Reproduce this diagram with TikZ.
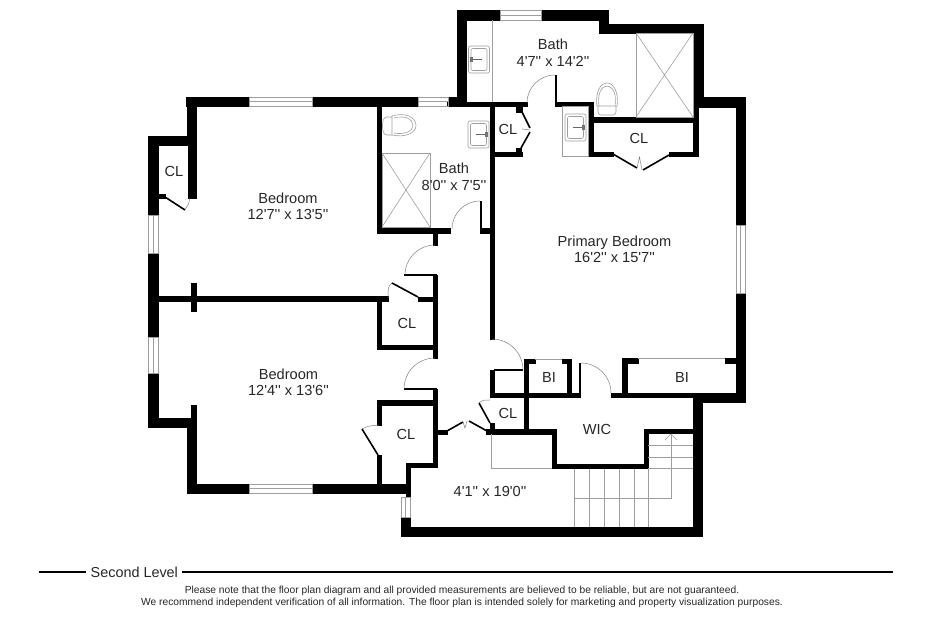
\documentclass[tikz,border=0pt]{standalone}
\usepackage{fontspec}
\usetikzlibrary{calc}
\newfontfamily\planfont{Liberation Sans}
\colorlet{fixture}{black!38}
\tikzset{
	room/.style={font=\planfont\fontsize{14.6}{16.5}\selectfont, align=center, text=black!85, inner sep=0pt},
	note/.style={font=\planfont\fontsize{10.25}{12}\selectfont, align=center, text=black!85, inner sep=0pt},
	fixt/.style={draw=fixture, line width=0.6pt},
	swing/.style={draw=black!50, line width=0.5pt},
	leaf/.style={draw=black, line width=1.6pt},
	sinkbowl/.pic={
		\draw[fixt, rounded corners=2pt] (-10.5,-13.5) rectangle (10.5,13.5);
		\draw[fixt, rounded corners=2pt] (-8,-11) rectangle (8,11);
		\draw[draw=black!60, line width=1pt] (-3,0) -- (8,0);
		\fill[black!55] (6.5,-2.5) rectangle (9,2.5);
	}
}
\begin{document}
\begin{tikzpicture}[x=1pt, y=-1pt]
	\useasboundingbox (0,0) rectangle (930,620);
	% walls
	\foreach \xa/\ya/\xb/\yb in {
		186/97/249/106, 312/97/418/106, 448/97/466/106, 457/10/466/106, 457/10/500/20, 541/10/608/20,
		599/10/608/33, 599/24/703/33, 693/24/703/107, 699/97/745/107, 736/97/745/225, 736/293/745/402,
		693/393/745/402, 693/393/702/536, 401/527/702/536, 401/517/410/536,
		187/484/249/493, 312/484/410/493, 187/418/196/493, 191/405/196/418, 148/418/196/427,
		148/373/158/427, 148/253/158/337, 148/136/158/215, 148/136/196/145, 187/97/196/145, 188/145/196/198,
		158/194/165/198,
		158/296/388/301, 191/283/196/311, 377/298/381/349, 377/345/437/349, 418/297/437/301, 433/275/437/358,
		433/389/437/466, 377/400/437/405, 377/400/381/425, 377/455/381/487, 406/463/437/467, 406/463/410/497,
		437/430/447/434, 486/429/494/434,
		377/228/450/233, 433/233/437/245, 377/106/381/233, 480/228/494/233, 490/106/494/339, 490/370/494/397,
		494/393/580/397, 490/423/494/434, 486/429/556/434, 552/429/556/468, 552/464/648/468, 644/429/648/468,
		644/429/693/433, 524/359/528/430, 524/359/535/363, 562/359/571/363, 567/359/571/397, 611/393/693/397,
		622/358/627/393, 622/358/638/363, 725/358/736/363,
		447/102/527/106, 516/106/522/112, 490/152/522/156, 516/148/521/152,
		555/102/593/106, 588/102/593/156, 588/152/613/156, 669/152/698/156, 693/107/698/156, 593/117/695/122}
		\filldraw[line width=0.5pt] (\xa,\ya) rectangle (\xb,\yb);
	\fill (480,201) rectangle (482,228);
	\fill (555,75) rectangle (557,105);
	\fill (579,363) rectangle (581,393);
	\fill (404,274.5) rectangle (437,276);
	\fill (404,388) rectangle (437,390);
	\fill (494,369.5) rectangle (523,371);
	% windows
	\foreach \xa/\ya/\xb/\yb in {249/97/312/106, 418/97/448/106, 500/10/541/20, 249/484/312/493} {
		\draw[fixt] (\xa,\ya) rectangle (\xb,\yb);
		\draw[fixt] (\xa,{(\ya+\yb)/2}) -- (\xb,{(\ya+\yb)/2});
	}
	\foreach \xa/\ya/\xb/\yb in {148/215/158/253, 148/337/158/373, 736/225/745/293, 401/497/410/517} {
		\draw[fixt] (\xa,\ya) rectangle (\xb,\yb);
		\draw[fixt] ({(\xa+\xb)/2},\ya) -- ({(\xa+\xb)/2},\yb);
	}
	% door swings
	\draw[swing] (435,245) arc[start angle=90, end angle=180, radius=30pt];
	\draw[swing] (435,358) arc[start angle=90, end angle=180, radius=31pt];
	\draw[swing] (480,201) arc[start angle=90, end angle=180, radius=28pt];
	\draw[swing] (492,339) arc[start angle=90, end angle=0, radius=31pt];
	\draw[swing] (581,363) arc[start angle=90, end angle=0, radius=30pt];
	\draw[swing] (555,75) arc[start angle=90, end angle=180, radius=28pt];
	\draw[swing] (185,209) .. controls (188,206) .. (190,198);
	\draw[swing] (392,283) .. controls (388,287) .. (388,298);
	\draw[swing] (362,429) .. controls (368,426) .. (379,425);
	\draw[swing] (479,403) .. controls (483,400) .. (490,400);
	% door leaves
	\draw[leaf] (165,197) -- (185,210);
	\draw[leaf] (392,283) -- (418,297);
	\draw[leaf] (362,429) -- (378,455);
	\draw[leaf] (447,431) -- (463,422);
	\draw[leaf] (469,421) -- (487,431);
	\draw[leaf] (479,403) -- (490,423);
	\draw[leaf] (522,112) -- (530,128);
	\draw[leaf] (530,132) -- (521,148);
	\draw[leaf] (613,154) -- (637,168);
	\draw[leaf] (643,170) -- (669,155);
	\draw[swing] (463,422) -- (465,428) -- (467,421);
	\draw[swing] (637,168) -- (639.5,157) -- (642,170);
	\draw[swing] (522,129) -- (530,130);
	% showers and counters
	\draw[fixt] (382,153) rectangle (430,227);
	\draw[fixt] (382,153) -- (430,227) (430,153) -- (382,227);
	\draw[fixt] (636,33) rectangle (693,117);
	\draw[fixt] (636,117) -- (693,33) (636,33) -- (693,117);
	\draw[fixt] (492,20) -- (492,102);
	\draw[fixt] (562,106) rectangle (588,156);
	\draw[fixt] (535,359.5) -- (562,359.5);
	\draw[fixt] (638,358.5) -- (725,358.5);
	\pic at (478.5,134.5) {sinkbowl};
	\pic at (575.5,127.5) {sinkbowl};
	\pic[xscale=-1] at (479,59.5) {sinkbowl};
	% toilets
	\draw[fixt, rounded corners=3pt] (392,117) -- (384,117) -- (382,126) -- (384,135) -- (392,135);
	\draw[fixt] (392,116) .. controls (405,112) and (416,117) .. (416,125.5) .. controls (416,133) and (405,138) .. (392,135) -- cycle;
	\draw[fixt] (394,118) .. controls (405,115) and (413,119) .. (413,125.5) .. controls (413,131) and (405,135) .. (394,133);
	\draw[fixt, rounded corners=3pt] (598,106) -- (598,115) -- (616,115) -- (616,106);
	\draw[fixt] (597,106) .. controls (595,91) and (601,83) .. (607,83) .. controls (613,83) and (619,91) .. (617,106) -- cycle;
	\draw[fixt] (599,106) .. controls (597,93) and (602,86) .. (607,86) .. controls (612,86) and (617,93) .. (615,106);
	% stairs
	\draw[fixt] (491,434) -- (491,468) -- (552,468);
	\foreach \x in {574,589,604,619,634,648}
		\draw[fixt] (\x,469) -- (\x,527);
	\foreach \y in {445,457,468}
		\draw[fixt] (648,\y) -- (693,\y);
	\draw[fixt] (574,498) -- (671,498) -- (671,434);
	\draw[fixt] (665,440) -- (671,434) -- (677,440);
	% labels
	\node[room] (bedroomup) at (288,206.5) {Bedroom\\12'7'' x 13'5''};
	\node[room] (bedroomlow) at (288.5,382.5) {Bedroom\\12'4'' x 13'6''};
	\node[room] (bathprim) at (553,52.5) {Bath\\4'7'' x 14'2''};
	\node[room] (bathhall) at (454,177) {Bath\\8'0'' x 7'5''};
	\node[room] (primary) at (614.5,249.5) {Primary Bedroom\\16'2'' x 15'7''};
	\node[room] (hall) at (490,491) {4'1'' x 19'0''};
	\node[room] (wic) at (597,429) {WIC};
	\node[room] (biwest) at (549,377) {BI};
	\node[room] (bieast) at (682,377) {BI};
	\node[room] (clwest) at (174,171) {CL};
	\node[room] (clup) at (407,323) {CL};
	\node[room] (cllow) at (406,434) {CL};
	\node[room] (clbath) at (508,129) {CL};
	\node[room] (clprim) at (639,138) {CL};
	\node[room] (clhall) at (508,413) {CL};
	% footer
	\node[room, anchor=west, font=\planfont\fontsize{14.4}{16.5}\selectfont] (level) at (90.5,572) {Second Level};
	\coordinate (rulestart) at (39,572);
	\coordinate (ruleend) at (893,572);
	\draw[line width=1.6pt] (rulestart) -- ($(level.west)+(-4.5,0)$);
	\draw[line width=1.6pt] ($(level.east)+(4,0)$) -- (ruleend);
	\node[note] (disclaimer) at (462,596.5) {Please note that the floor plan diagram and all provided measurements are believed to be reliable, but are not guaranteed.\\We recommend independent verification of all information. The floor plan is intended solely for marketing and property visualization purposes.};
\end{tikzpicture}
\end{document}
